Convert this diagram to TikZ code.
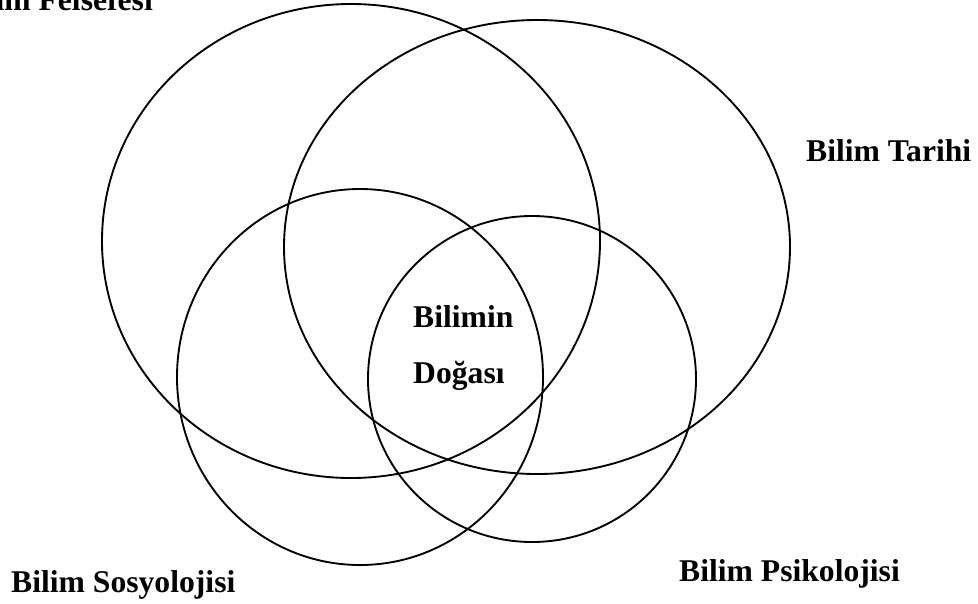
\documentclass[tikz,border=0pt]{standalone}
\usepackage{fontspec}
\setmainfont{Liberation Serif}
\usepackage{tikz}
\usetikzlibrary{positioning, calc}

\tikzset{
  field/.style={draw=black, line width=1.6pt},
  label/.style={inner sep=0pt, font=\fontsize{27}{32}\selectfont\bfseries}
}

\begin{document}
\begin{tikzpicture}[x=0.03cm, y=-0.03cm]
    % Page frame
    \useasboundingbox (0,0) rectangle (978,603);
    \clip (0,0) rectangle (978,603);

    % Centres of the fields
    \coordinate (Fel) at (351,241);
    \coordinate (Tar) at (537,247);
    \coordinate (Sos) at (360,377);
    \coordinate (Psi) at (532,379);

    % Fields
    \draw[field] (Fel) ellipse [x radius=249, y radius=237];
    \draw[field] (Tar) ellipse [x radius=253, y radius=227];
    \draw[field] (Sos) ellipse [x radius=183, y radius=188];
    \draw[field] (Psi) ellipse [x radius=164, y radius=163];

    % Labels
    \node[label, anchor=base east] (felsefe) at (153,10) {Bilim Felsefesi};
    \node[label, anchor=base west] (tarih) at (806,161) {Bilim Tarihi};
    \node[label, anchor=base west] (sosyo) at (11,592) {Bilim Sosyolojisi};
    \node[label, anchor=base west] (psiko) at (679,581) {Bilim Psikolojisi};
    \node[label, anchor=base west] (bilimin) at (413,327) {Bilimin};
    \node[label, anchor=base west] (doga) at (413,383) {Doğası};
\end{tikzpicture}
\end{document}
